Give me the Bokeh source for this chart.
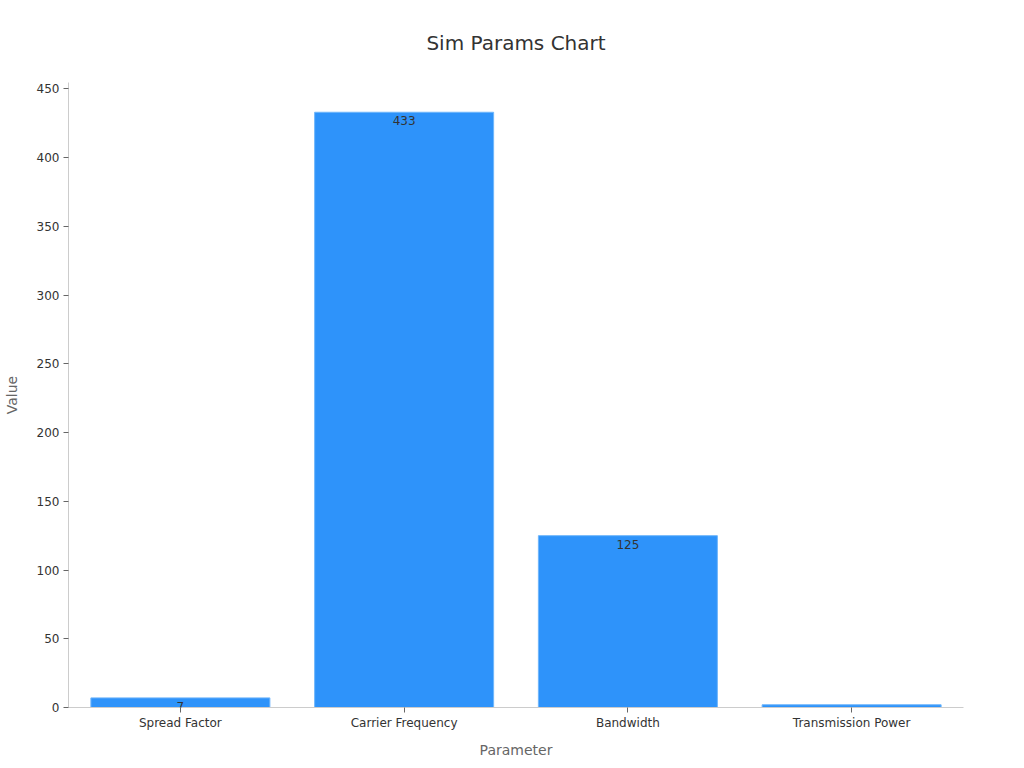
from bokeh.plotting import figure
from bokeh.models import ColumnDataSource, LabelSet, Range1d, FixedTicker
from bokeh.core.properties import value
from bokeh.embed import file_html
from bokeh.resources import INLINE

title_text = "Sim Params Chart"
categories = ["Spread Factor", "Carrier Frequency", "Bandwidth", "Transmission Power"]
values = [7, 433, 125, 2]
y_ticks = [0, 50, 100, 150, 200, 250, 300, 350, 400, 450]

FONT = "DejaVu Sans"

src = ColumnDataSource(dict(cat=categories, val=values, lbl=[str(v) for v in values]))

p = figure(x_range=categories, y_range=Range1d(0, max(values) * 1.05),
           width=1000, height=760, output_backend="svg", toolbar_location=None,
           min_border_left=68, min_border_right=37, min_border_top=82, min_border_bottom=52)

p.vbar(x="cat", top="val", width=0.8, source=src, fill_color="#2e93fa",
       line_color="#6fb6fb", line_width=1)

labels = LabelSet(x="cat", y="val", text="lbl", source=src, text_align="center",
                  text_baseline="top", y_offset=-4, text_font=value(FONT),
                  text_font_size="12px", text_color="#333333")
p.add_layout(labels)

p.title.text = title_text
p.title.align = "center"
p.title.text_font = FONT
p.title.text_font_size = "20px"
p.title.text_font_style = "normal"
p.title.text_color = "#333333"
p.title.standoff = 56

p.xgrid.visible = False
p.ygrid.visible = False
p.outline_line_color = None

p.yaxis.ticker = FixedTicker(ticks=y_ticks)
p.yaxis.minor_tick_line_color = None
p.yaxis.axis_line_color = "#cccccc"
p.yaxis.major_tick_line_color = "#666666"
p.yaxis.major_tick_out = 5
p.yaxis.major_tick_in = 0
p.yaxis.major_label_text_font = FONT
p.yaxis.major_label_text_font_size = "12px"
p.yaxis.major_label_text_color = "#333333"
p.yaxis.major_label_standoff = 4
p.yaxis.axis_label = "Value"
p.yaxis.axis_label_text_font = FONT
p.yaxis.axis_label_text_font_size = "14px"
p.yaxis.axis_label_text_font_style = "normal"
p.yaxis.axis_label_text_color = "#666666"
p.yaxis.axis_label_standoff = 14

p.xaxis.axis_line_color = "#cccccc"
p.xaxis.major_tick_line_color = "#666666"
p.xaxis.major_tick_out = 5
p.xaxis.major_tick_in = 0
p.xaxis.major_label_text_font = FONT
p.xaxis.major_label_text_font_size = "12px"
p.xaxis.major_label_text_color = "#333333"
p.xaxis.major_label_standoff = 3
p.xaxis.axis_label = "Parameter"
p.xaxis.axis_label_text_font = FONT
p.xaxis.axis_label_text_font_size = "14px"
p.xaxis.axis_label_text_font_style = "normal"
p.xaxis.axis_label_text_color = "#666666"
p.xaxis.axis_label_standoff = 9

open("out.html", "w").write(file_html(p, INLINE))
